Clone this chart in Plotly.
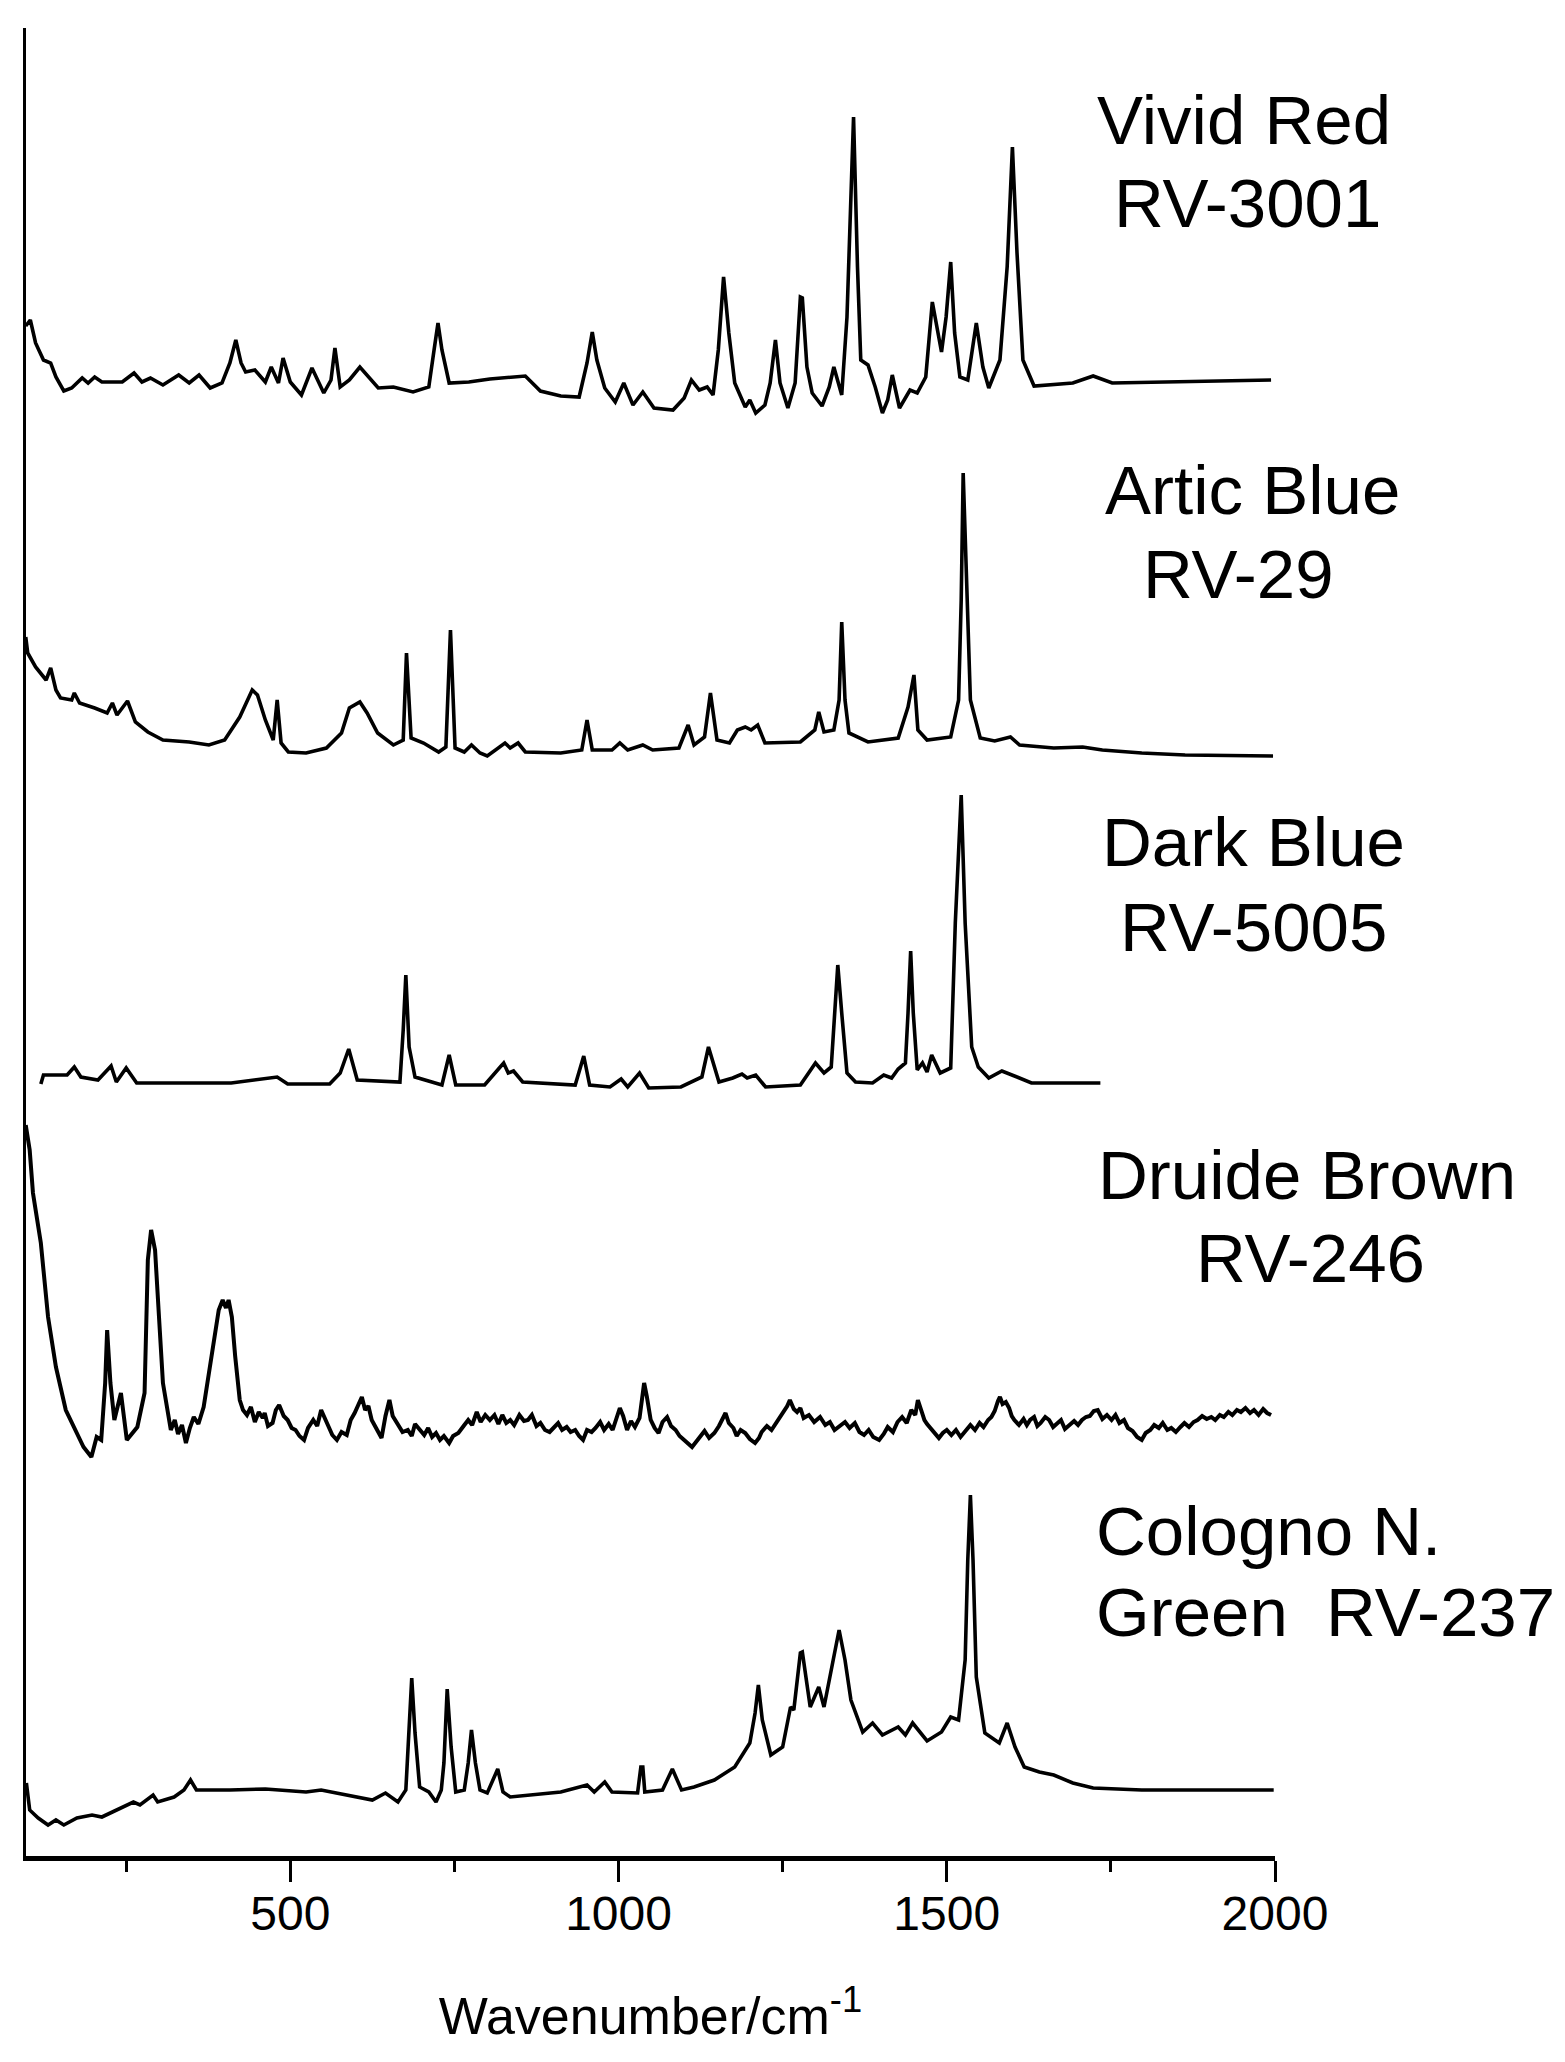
import plotly.graph_objects as go

# ---------------- data (wavenumber / cm^-1, stacked intensity a.u.) ----------------
VIVID_RED_WN = [97, 104, 112, 124, 135, 143, 155, 167, 183, 192,
                202, 213, 244, 262, 274, 287, 306, 330, 346, 361,
                378, 396, 408, 417, 425, 432, 446, 462, 471, 482,
                489, 500, 517, 533, 551, 562, 568, 576, 590, 606,
                634, 657, 687, 711, 719, 725, 731, 742, 772, 804,
                858, 881, 912, 940, 952, 960, 967, 979, 995, 1008,
                1022, 1037, 1054, 1083, 1100, 1111, 1123, 1135, 1144, 1152,
                1160, 1168, 1177, 1193, 1200, 1209, 1223, 1231, 1239, 1246,
                1258, 1269, 1277, 1280, 1287, 1295, 1310, 1321, 1328, 1340,
                1348, 1358, 1364, 1369, 1380, 1391, 1402, 1410, 1417, 1428,
                1444, 1455, 1468, 1478, 1492, 1499, 1506, 1512, 1520, 1532,
                1545, 1555, 1564, 1581, 1592, 1600, 1607, 1616, 1633, 1692,
                1723, 1752, 1994]
VIVID_RED_I = [1530, 1536, 1513, 1496, 1493, 1479, 1465, 1468, 1478, 1473,
               1479, 1474, 1474, 1483, 1474, 1478, 1471, 1481, 1473, 1481,
               1468, 1473, 1493, 1516, 1493, 1484, 1486, 1474, 1489, 1473,
               1498, 1474, 1461, 1488, 1463, 1476, 1508, 1469, 1476, 1489,
               1468, 1469, 1464, 1469, 1506, 1533, 1506, 1473, 1474, 1477,
               1480, 1465, 1460, 1459, 1493, 1524, 1496, 1468, 1454, 1473,
               1451, 1464, 1448, 1446, 1458, 1476, 1466, 1469, 1461, 1506,
               1579, 1523, 1473, 1449, 1456, 1443, 1451, 1473, 1516, 1473,
               1448, 1473, 1559, 1558, 1489, 1463, 1450, 1469, 1489, 1461,
               1539, 1739, 1589, 1496, 1491, 1469, 1443, 1456, 1481, 1448,
               1466, 1463, 1479, 1554, 1504, 1539, 1594, 1523, 1479, 1476,
               1533, 1489, 1468, 1496, 1589, 1709, 1603, 1496, 1470, 1473,
               1480, 1473, 1476]

ARTIC_BLUE_WN = [97, 100, 112, 128, 135, 143, 150, 167, 171, 179,
                 202, 221, 229, 236, 252, 264, 283, 306, 346, 376,
                 400, 423, 442, 450, 462, 474, 480, 486, 497, 524,
                 555, 578, 590, 606, 617, 633, 657, 672, 677, 684,
                 703, 726, 737, 744, 751, 765, 776, 789, 800, 827,
                 835, 847, 858, 912, 944, 952, 960, 990, 1002, 1014,
                 1037, 1052, 1092, 1106, 1115, 1131, 1140, 1150, 1169, 1181,
                 1193, 1202, 1212, 1223, 1277, 1299, 1305, 1313, 1328, 1336,
                 1340, 1345, 1351, 1380, 1426, 1441, 1450, 1456, 1470, 1506,
                 1518, 1522, 1525, 1531, 1536, 1551, 1573, 1597, 1611, 1663,
                 1707, 1737, 1797, 1863, 1997]
ARTIC_BLUE_I = [1219, 1203, 1189, 1176, 1188, 1166, 1158, 1156, 1163, 1153,
                1148, 1143, 1153, 1141, 1155, 1134, 1124, 1116, 1114, 1111,
                1116, 1139, 1166, 1161, 1136, 1116, 1156, 1113, 1104, 1103,
                1108, 1123, 1148, 1154, 1143, 1123, 1111, 1116, 1203, 1118,
                1113, 1104, 1109, 1226, 1108, 1104, 1111, 1103, 1100, 1113,
                1108, 1113, 1104, 1103, 1106, 1136, 1106, 1106, 1113, 1106,
                1111, 1106, 1108, 1131, 1111, 1119, 1163, 1116, 1113, 1126,
                1129, 1126, 1131, 1113, 1114, 1126, 1144, 1124, 1126, 1156,
                1234, 1156, 1123, 1114, 1118, 1149, 1181, 1126, 1116, 1119,
                1156, 1256, 1383, 1256, 1156, 1118, 1115, 1119, 1111, 1108,
                1109, 1106, 1103, 1101, 1100]

DARK_BLUE_WN = [120, 124, 160, 171, 181, 207, 227, 235, 250, 266,
                410, 480, 496, 560, 576, 589, 602, 667, 672, 676,
                681, 690, 731, 742, 752, 796, 825, 832, 840, 854,
                934, 947, 956, 987, 1004, 1014, 1032, 1046, 1095, 1111,
                1127, 1137, 1153, 1174, 1188, 1196, 1209, 1224, 1277, 1300,
                1313, 1324, 1330, 1334, 1340, 1348, 1361, 1387, 1404, 1416,
                1426, 1437, 1441, 1445, 1449, 1455, 1463, 1470, 1477, 1490,
                1506, 1513, 1522, 1528, 1538, 1548, 1564, 1584, 1607, 1629,
                1734]
DARK_BLUE_I = [772, 781, 781, 789, 779, 776, 790, 774, 788, 773,
               773, 779, 772, 772, 783, 807, 776, 774, 826, 881,
               809, 779, 771, 801, 771, 771, 793, 783, 785, 774,
               771, 800, 771, 769, 777, 769, 783, 768, 769, 774,
               779, 809, 774, 778, 782, 778, 781, 769, 771, 793,
               783, 789, 843, 891, 843, 783, 774, 773, 781, 778,
               787, 793, 843, 905, 843, 786, 793, 784, 801, 783,
               788, 933, 1061, 933, 809, 789, 778, 785, 779, 773,
               773]

DRUIDE_BROWN_WN = [97, 103, 108, 120, 131, 143, 158, 174, 185, 197,
                   205, 212, 218, 221, 226, 232, 242, 251, 267, 278,
                   283, 288, 294, 300, 306, 318, 324, 329, 335, 341,
                   347, 353, 360, 368, 379, 385, 391, 397, 402, 406,
                   411, 416, 423, 428, 434, 440, 446, 452, 458, 461,
                   466, 473, 478, 483, 490, 496, 502, 508, 514, 521,
                   527, 535, 541, 547, 552, 558, 564, 571, 578, 586,
                   592, 598, 604, 609, 614, 619, 624, 632, 639, 645,
                   651, 656, 664, 671, 679, 685, 690, 697, 704, 710,
                   716, 722, 728, 734, 742, 748, 756, 764, 771, 777,
                   784, 790, 797, 804, 811, 817, 823, 829, 835, 841,
                   849, 856, 862, 868, 875, 881, 888, 895, 901, 908,
                   914, 921, 927, 934, 940, 946, 952, 959, 965, 972,
                   978, 985, 991, 996, 1002, 1007, 1013, 1019, 1025, 1032,
                   1036, 1039, 1043, 1049, 1055, 1061, 1067, 1074, 1080, 1087,
                   1093, 1100, 1106, 1112, 1118, 1124, 1131, 1138, 1146, 1153,
                   1160, 1163, 1168, 1175, 1180, 1186, 1193, 1200, 1208, 1214,
                   1218, 1226, 1233, 1240, 1248, 1257, 1261, 1267, 1272, 1277,
                   1282, 1290, 1298, 1307, 1315, 1322, 1329, 1338, 1345, 1352,
                   1360, 1367, 1374, 1381, 1388, 1397, 1404, 1410, 1418, 1425,
                   1432, 1439, 1446, 1452, 1456, 1461, 1466, 1470, 1475, 1482,
                   1488, 1494, 1500, 1507, 1514, 1521, 1529, 1536, 1543, 1550,
                   1556, 1563, 1568, 1573, 1578, 1581, 1585, 1590, 1595, 1599,
                   1603, 1610, 1617, 1622, 1627, 1633, 1638, 1643, 1650, 1656,
                   1662, 1668, 1674, 1680, 1687, 1694, 1700, 1706, 1712, 1718,
                   1724, 1730, 1737, 1744, 1751, 1757, 1763, 1770, 1776, 1783,
                   1790, 1797, 1803, 1810, 1816, 1823, 1829, 1836, 1842, 1849,
                   1856, 1862, 1869, 1876, 1882, 1889, 1896, 1903, 1909, 1916,
                   1922, 1929, 1935, 1942, 1948, 1955, 1962, 1968, 1975, 1982,
                   1988, 1994]
DRUIDE_BROWN_I = [731, 706, 663, 613, 539, 489, 446, 423, 409, 399,
                  419, 416, 473, 526, 473, 436, 463, 416, 429, 463,
                  596, 626, 606, 539, 473, 426, 436, 422, 431, 413,
                  428, 439, 432, 449, 496, 520, 546, 556, 548, 556,
                  539, 500, 456, 446, 441, 449, 434, 444, 438, 443,
                  430, 433, 446, 451, 440, 436, 428, 426, 420, 416,
                  428, 436, 430, 446, 438, 429, 421, 416, 424, 421,
                  436, 443, 452, 459, 446, 450, 436, 426, 418, 440,
                  456, 440, 431, 424, 426, 420, 432, 426, 421, 428,
                  419, 423, 416, 420, 413, 420, 423, 430, 436, 431,
                  444, 434, 441, 436, 441, 432, 441, 433, 436, 431,
                  441, 435, 436, 441, 430, 433, 426, 424, 428, 433,
                  426, 429, 424, 426, 420, 416, 426, 424, 428, 434,
                  426, 432, 426, 436, 448, 440, 426, 435, 429, 438,
                  455, 473, 460, 436, 428, 423, 434, 439, 430, 426,
                  420, 416, 412, 409, 414, 419, 425, 418, 423, 430,
                  440, 443, 433, 428, 420, 426, 423, 417, 413, 418,
                  424, 430, 426, 433, 441, 450, 456, 447, 444, 448,
                  438, 441, 434, 439, 431, 434, 426, 430, 434, 428,
                  433, 424, 421, 426, 419, 416, 422, 429, 424, 434,
                  439, 433, 446, 441, 456, 446, 436, 432, 428, 422,
                  418, 423, 426, 421, 426, 419, 426, 431, 426, 433,
                  429, 436, 439, 445, 455, 459, 452, 454, 448, 440,
                  436, 431, 437, 431, 436, 439, 430, 433, 439, 436,
                  429, 433, 436, 427, 431, 435, 431, 436, 439, 440,
                  445, 446, 437, 441, 436, 441, 433, 436, 428, 425,
                  419, 416, 423, 426, 431, 428, 433, 426, 428, 424,
                  429, 433, 429, 434, 436, 440, 437, 439, 436, 441,
                  439, 444, 441, 446, 444, 448, 443, 446, 441, 447,
                  443, 441]

COLOGNO_GREEN_WN = [98, 103, 116, 131, 143, 155, 175, 198, 213, 236,
                    261, 271, 291, 298, 323, 338, 348, 357, 408, 462,
                    524, 547, 586, 625, 645, 664, 676, 680, 685, 690,
                    697, 711, 722, 730, 734, 739, 745, 752, 765, 771,
                    776, 782, 789, 800, 816, 824, 835, 912, 952, 963,
                    979, 990, 1029, 1034, 1037, 1040, 1067, 1082, 1096, 1115,
                    1146, 1177, 1200, 1208, 1213, 1219, 1232, 1250, 1262, 1267,
                    1277, 1280, 1286, 1292, 1305, 1313, 1327, 1336, 1345, 1354,
                    1372, 1387, 1402, 1417, 1426, 1437, 1448, 1470, 1492, 1506,
                    1518, 1528, 1532, 1536, 1540, 1545, 1558, 1580, 1592, 1604,
                    1618, 1641, 1663, 1692, 1723, 1797, 1998]
COLOGNO_GREEN_I = [73, 46, 38, 31, 36, 31, 38, 41, 39, 46,
                   54, 51, 61, 54, 59, 66, 76, 66, 66, 67,
                   64, 66, 61, 56, 63, 54, 66, 123, 178, 123,
                   69, 64, 54, 66, 93, 167, 109, 64, 66, 93,
                   126, 93, 66, 63, 87, 64, 59, 64, 71, 64,
                   74, 64, 63, 89, 89, 64, 66, 87, 66, 69,
                   76, 89, 113, 143, 171, 136, 101, 109, 149, 146,
                   203, 204, 179, 149, 169, 149, 196, 226, 196, 156,
                   124, 133, 121, 126, 129, 121, 133, 115, 124, 139,
                   136, 196, 296, 361, 296, 179, 123, 113, 133, 109,
                   89, 84, 81, 73, 68, 66, 66]

SPECTRA = [
    ("Vivid Red RV-3001", VIVID_RED_WN, VIVID_RED_I, 3.6),
    ("Artic Blue RV-29", ARTIC_BLUE_WN, ARTIC_BLUE_I, 3.6),
    ("Dark Blue RV-5005", DARK_BLUE_WN, DARK_BLUE_I, 3.6),
    ("Druide Brown RV-246", DRUIDE_BROWN_WN, DRUIDE_BROWN_I, 4),
    ("Cologno N. Green RV-237", COLOGNO_GREEN_WN, COLOGNO_GREEN_I, 3.6),
]
for _n, _x, _y, _w in SPECTRA:
    assert len(_x) == len(_y), (_n, len(_x), len(_y))

X_TICKS = [500, 1000, 1500, 2000]
X_TITLE = "Wavenumber/cm<sup>-1</sup>"

# ---------------- figure ----------------
# the page adds an 8 px body margin, so the figure is drawn 8 px smaller/shifted
W, H = 1557, 2054
ML, MT = 18, 20
PW, PH = 1249, 1828
MR, MB = W - ML - PW, H - MT - PH
FONT = "Liberation Sans, Arial, sans-serif"

fig = go.Figure()
for name, wn, inten, lw in SPECTRA:
    fig.add_trace(go.Scatter(x=wn, y=inten, mode="lines", name=name,
                             line=dict(color="#000000", width=lw), hoverinfo="skip"))

REF_LEFT, REF_BOTTOM = 26, 1856


def ref_to_paper(px, py):
    return (px - REF_LEFT) / PW, (REF_BOTTOM - py) / PH


labels = [
    ("Vivid Red", 1244, 120, "center"),
    ("RV-3001", 1247, 203, "center"),
    ("Artic Blue", 1252, 491, "center"),
    ("RV-29", 1238, 574, "center"),
    ("Dark Blue", 1253, 842, "center"),
    ("RV-5005", 1253, 927, "center"),
    ("Druide Brown", 1307, 1175, "center"),
    ("RV-246", 1310, 1258, "center"),
    ("Cologno N.", 1094, 1531, "left"),
    ("Green&nbsp; RV-237", 1094, 1612, "left"),
]
for text, px, py, anchor in labels:
    xp, yp = ref_to_paper(px, py)
    fig.add_annotation(x=xp, y=yp, xref="paper", yref="paper", text=text,
                       showarrow=False, xanchor=anchor, yanchor="middle",
                       font=dict(family=FONT, size=69, color="#000000"))

fig.update_layout(
    width=W, height=H,
    margin=dict(l=ML, r=MR, t=MT, b=MB, pad=0),
    paper_bgcolor="white", plot_bgcolor="white",
    showlegend=False,
    font=dict(family=FONT, color="#000000"),
)
fig.update_xaxes(
    range=[97.4, 2000], showgrid=False, zeroline=False,
    showline=True, linecolor="#000000", linewidth=5,
    ticks="outside", ticklen=21, tickwidth=2.5, tickcolor="#000000",
    tickvals=X_TICKS, ticktext=[str(v) for v in X_TICKS],
    tickfont=dict(family=FONT, size=48, color="#000000"),
    ticklabelstandoff=-10,
    minor=dict(dtick=250, tick0=0, ticks="outside", ticklen=11, tickwidth=2.5, tickcolor="#000000"),
    title=dict(text=X_TITLE, font=dict(family=FONT, size=52, color="#000000"), standoff=60),
)
fig.update_yaxes(
    range=[0, PH], showgrid=False, zeroline=False, showticklabels=False, ticks="",
    showline=True, linecolor="#000000", linewidth=3,
)

fig.write_html("out.html")
